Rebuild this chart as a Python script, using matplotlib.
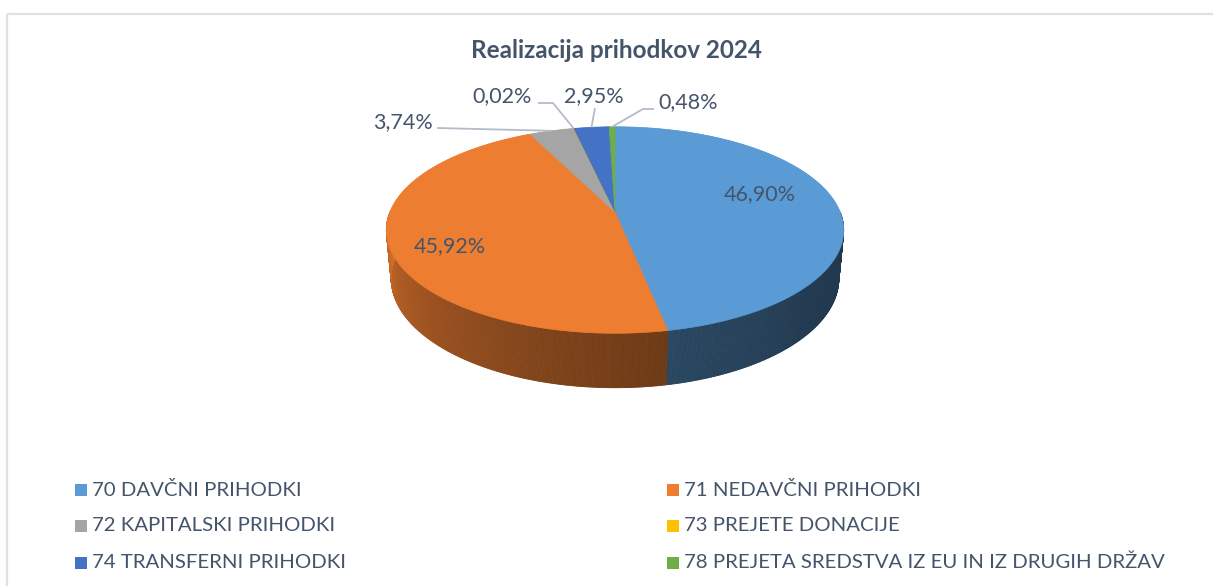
import numpy as np
import matplotlib
matplotlib.use("Agg")
import matplotlib.pyplot as plt
from matplotlib.patches import Polygon, Rectangle
from matplotlib.collections import PolyCollection
from matplotlib.colors import to_rgb

categories = ["70 DAVČNI PRIHODKI", "71 NEDAVČNI PRIHODKI", "72 KAPITALSKI PRIHODKI",
              "73 PREJETE DONACIJE", "74 TRANSFERNI PRIHODKI",
              "78 PREJETA SREDSTVA IZ EU IN IZ DRUGIH DRŽAV"]
shares = [46.90, 45.92, 3.74, 0.02, 2.95, 0.48]
share_labels = ["46,90%", "45,92%", "3,74%", "0,02%", "2,95%", "0,48%"]
colors = ["#5b9bd5", "#ed7d31", "#a5a5a5", "#ffc000", "#4472c4", "#70ad47"]

W, H = 1213, 586
TXT = "#44546a"
FONT = "Lato"

# perspective pie geometry (pixels)
CX, CY = 615, 212
F = 1155
TILT = np.radians(26.4)
DIST = 5.13
THICK = 0.241


def project(theta, r=1.0, y=0.0):
    """theta clockwise from the back of the pie, y = height (0 top face)."""
    X = r * np.sin(theta)
    Z = r * np.cos(theta)
    s, c = np.sin(TILT), np.cos(TILT)
    yc = Z * s + y * c
    dc = Z * c - y * s
    return CX + F * X / (DIST + dc), CY - F * yc / (DIST + dc)


def shade(col, f):
    return tuple(np.clip(np.array(to_rgb(col)) * f, 0, 1))


def side_factor(theta):
    t = (np.degrees(theta) - 90) / 180.0
    return 0.36 + 0.52 * t ** 2


fig = plt.figure(figsize=(W / 100, H / 100), dpi=100)
ax = fig.add_axes([0, 0, 1, 1])
ax.set_xlim(0, W)
ax.set_ylim(H, 0)
ax.axis("off")

ax.add_patch(Rectangle((7, 14), 1400, 800, facecolor="none", edgecolor="#dee2e6", lw=1.6))

vals = np.array(shares)
edges = np.concatenate([[0], np.cumsum(vals)]) / vals.sum() * 2 * np.pi

# sides (visible front half only)
for i, col in enumerate(colors):
    a0 = max(edges[i], np.pi / 2)
    a1 = min(edges[i + 1], 3 * np.pi / 2)
    if a1 <= a0:
        continue
    n = max(2, int((a1 - a0) * 150))
    ts = np.linspace(a0, a1, n + 1)
    quads, fcs = [], []
    for t0, t1 in zip(ts[:-1], ts[1:]):
        x0, y0 = project(t0)
        x1, y1 = project(t1)
        x2, y2 = project(t1, y=-THICK)
        x3, y3 = project(t0, y=-THICK)
        quads.append([(x0, y0), (x1, y1), (x2, y2), (x3, y3)])
        fcs.append(shade(col, side_factor((t0 + t1) / 2)))
    ax.add_collection(PolyCollection(quads, facecolors=fcs, edgecolors=fcs, linewidths=0.6))

# top faces with a soft vertical gradient
cx0, cy0 = project(0.0, r=0.0)
for i, col in enumerate(colors):
    a0, a1 = edges[i], edges[i + 1]
    ts = np.linspace(a0, a1, max(3, int((a1 - a0) * 120)))
    pts = [(cx0, cy0)] + [project(t) for t in ts]
    ax.add_patch(Polygon(pts, closed=True, facecolor=col, edgecolor=col, lw=0.5))
    clip = Polygon(pts, closed=True, facecolor="none", edgecolor="none")
    ax.add_patch(clip)
    g = np.linspace(0, 1, 200)[:, None]
    top = np.array(to_rgb(col)) * 0.88 + 0.12
    bot = np.array(to_rgb(col)) * 0.88
    img = (top[None, None, :] * (1 - g[..., None]) + bot[None, None, :] * g[..., None])
    img = np.repeat(img, 2, axis=1)
    im = ax.imshow(img, extent=(380, 850, 345, 120), origin="upper", aspect="auto",
                   interpolation="bilinear")
    im.set_clip_path(clip)

ax.set_xlim(0, W)
ax.set_ylim(H, 0)

# data labels
mids = (edges[:-1] + edges[1:]) / 2
inside = {0: (0.655, -12), 1: (0.74, 10)}
for i, (r, dy) in inside.items():
    x, y = project(mids[i], r=r)
    ax.text(x, y + dy, share_labels[i], ha="center", va="center",
            fontsize=15.5, color=TXT, family=FONT)

# outside labels: text position, leader path start
outside = {
    2: ((433, 122), "right", [(437, 128)]),
    3: ((532, 96), "right", [(538, 103), (553, 103)]),
    4: ((594, 96), "center", [(595, 108)]),
    5: ((658, 102), "left", [(654, 109), (643, 109)]),
}
for i, ((tx, ty), ha, path) in outside.items():
    ax.text(tx, ty, share_labels[i], ha=ha, va="center", fontsize=15.5,
            color=TXT, family=FONT)
    ex, ey = project(mids[i])
    xs = [p[0] for p in path] + [ex]
    ys = [p[1] for p in path] + [ey]
    ax.plot(xs, ys, color="#b4bcc8", lw=1.3, solid_capstyle="butt")

ax.text(616, 50, "Realizacija prihodkov 2024", ha="center", va="center",
        fontsize=17.5, fontweight="bold", color=TXT, family=FONT)

# legend, two columns
col_x = [75, 667]
row_y = [489.5, 525.5, 562.5]
for i, (name, col) in enumerate(zip(categories, colors)):
    x = col_x[i % 2]
    y = row_y[i // 2]
    ax.add_patch(Rectangle((x, y - 6), 12, 12, facecolor=col, edgecolor="none"))
    ax.text(x + 17, y, name, ha="left", va="center", fontsize=14.7,
            color=TXT, family=FONT)

fig.savefig("out.png", dpi=100)
